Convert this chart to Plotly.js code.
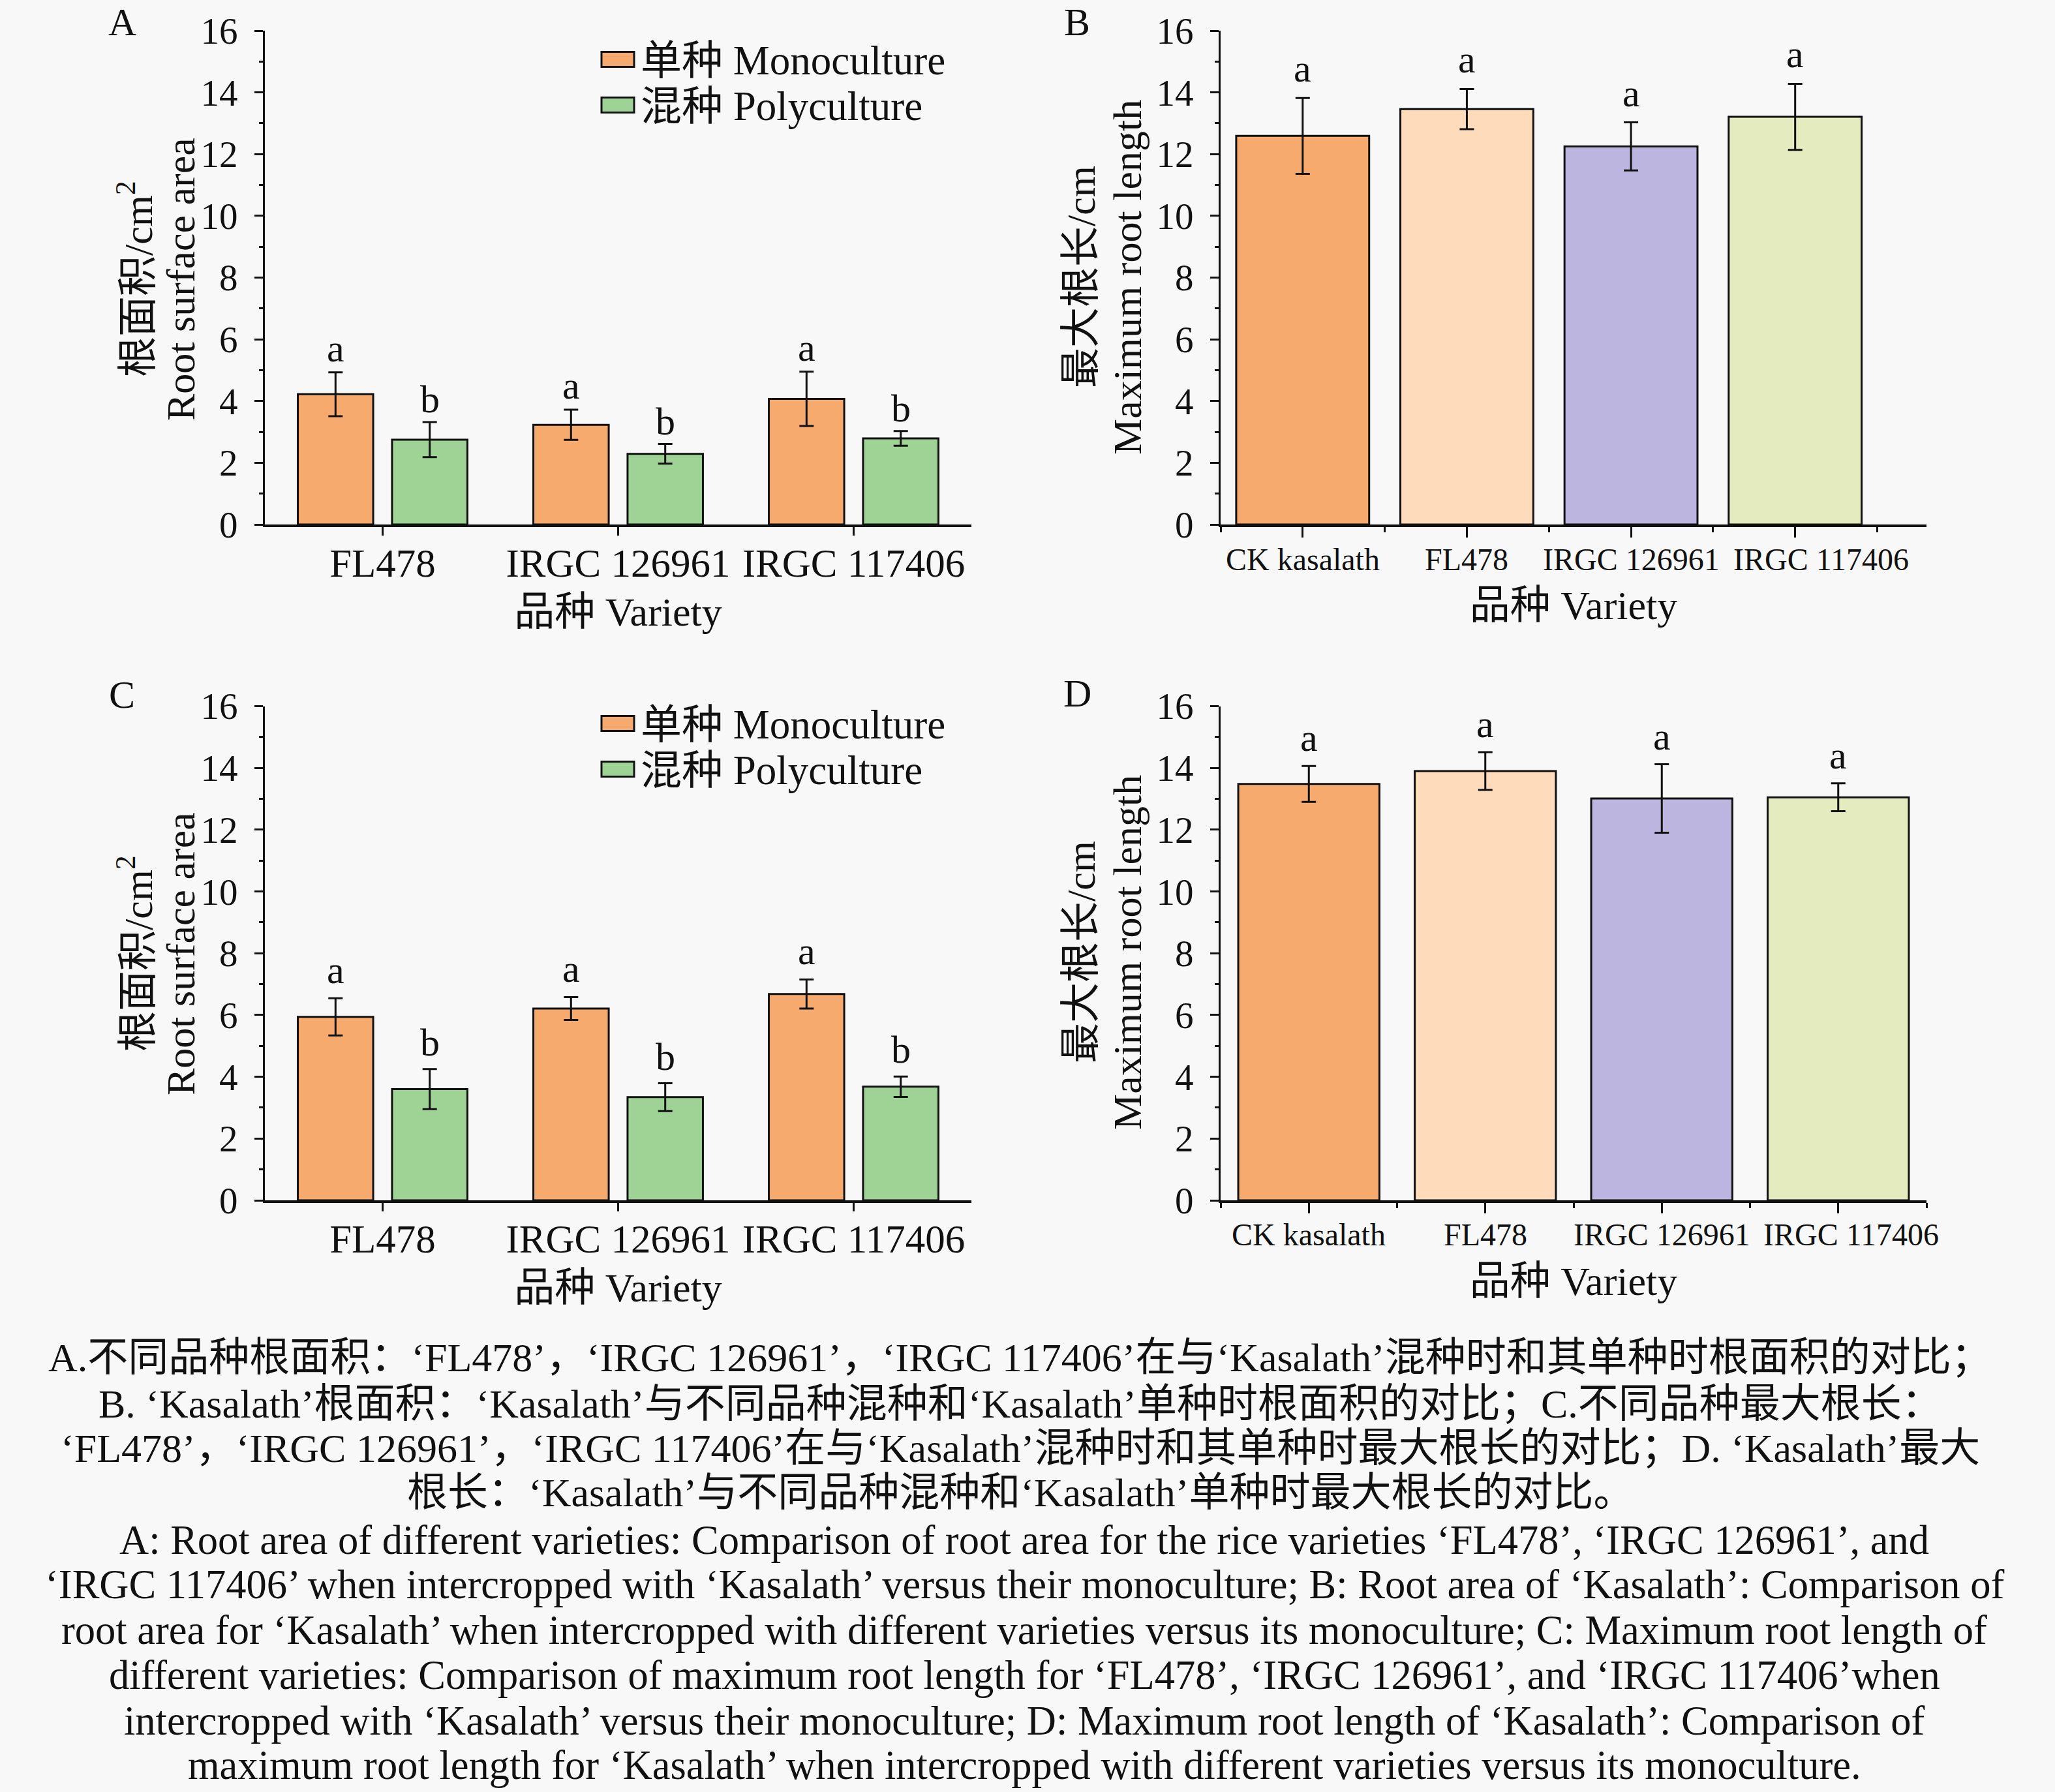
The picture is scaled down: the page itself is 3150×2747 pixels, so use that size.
<!DOCTYPE html>
<html>
<head>
<meta charset="utf-8">
<script src="https://cdn.plot.ly/plotly-3.0.1.min.js"></script>
<style>
  html, body { margin: 0; padding: 0; background: #f8f8f8; }
  #chart { width: 3150px; height: 2747px; }
</style>
</head>
<body>
<div id="chart"></div>
<script>
// ---------------- DATA ----------------
const varietyCats = ['FL478', 'IRGC 126961', 'IRGC 117406'];
const kasalathCats = ['CK kasalath', 'FL478', 'IRGC 126961', 'IRGC 117406'];

// Panel A: root surface area of different varieties (cm2)
const areaMono = [4.22, 3.23, 4.07];
const areaMonoErr = [0.71, 0.49, 0.88];
const areaPoly = [2.75, 2.29, 2.79];
const areaPolyErr = [0.57, 0.32, 0.24];
const areaMonoSig = ['a', 'a', 'a'];
const areaPolySig = ['b', 'b', 'b'];

// Panel B: Kasalath (max root length, cm)
const kasB = [12.59, 13.46, 12.25, 13.21];
const kasBErr = [1.23, 0.65, 0.78, 1.07];
const kasBSig = ['a', 'a', 'a', 'a'];

// Panel C: root surface area of different varieties (cm2)
const areaMonoC = [5.94, 6.21, 6.68];
const areaMonoCErr = [0.60, 0.37, 0.47];
const areaPolyC = [3.60, 3.34, 3.68];
const areaPolyCErr = [0.65, 0.45, 0.33];
const areaMonoCSig = ['a', 'a', 'a'];
const areaPolyCSig = ['b', 'b', 'b'];

// Panel D: Kasalath (max root length, cm)
const kasD = [13.48, 13.90, 13.01, 13.05];
const kasDErr = [0.58, 0.61, 1.11, 0.45];
const kasDSig = ['a', 'a', 'a', 'a'];

const yTickVals = [0, 2, 4, 6, 8, 10, 12, 14, 16];

const yTitleArea = ['根面积/cm<sup>2</sup>', 'Root surface area'];
const yTitleLen = ['最大根长/cm', 'Maximum root length'];
const xTitle = '品种 Variety';
const legendNames = ['单种 Monoculture', '混种 Polyculture'];

const captionZh = [
  'A.不同品种根面积：‘FL478’，‘IRGC 126961’，‘IRGC 117406’在与‘Kasalath’混种时和其单种时根面积的对比；',
  'B. ‘Kasalath’根面积：‘Kasalath’与不同品种混种和‘Kasalath’单种时根面积的对比；C.不同品种最大根长：',
  '‘FL478’，‘IRGC 126961’，‘IRGC 117406’在与‘Kasalath’混种时和其单种时最大根长的对比；D. ‘Kasalath’最大',
  '根长：‘Kasalath’与不同品种混种和‘Kasalath’单种时最大根长的对比。'
];
const captionEn = [
  'A: Root area of different varieties: Comparison of root area for the rice varieties ‘FL478’, ‘IRGC 126961’, and',
  '‘IRGC 117406’ when intercropped with ‘Kasalath’ versus their monoculture; B: Root area of ‘Kasalath’: Comparison of',
  'root area for ‘Kasalath’ when intercropped with different varieties versus its monoculture; C: Maximum root length of',
  'different varieties: Comparison of maximum root length for ‘FL478’, ‘IRGC 126961’, and ‘IRGC 117406’when',
  'intercropped with ‘Kasalath’ versus their monoculture; D: Maximum root length of ‘Kasalath’: Comparison of',
  'maximum root length for ‘Kasalath’ when intercropped with different varieties versus its monoculture.'
];

// ---------------- STYLE ----------------
const W = 3150, H = 2747;
const FONT = 'Liberation Serif, Noto Sans CJK SC, serif';
const INK = '#111111';
const cMono = '#f6aa6e';
const cPoly = '#9fd396';
const kasColors = ['#f6aa6e', '#fedcbb', '#bbb5e0', '#e4ebbf'];
const bg = '#f8f8f8';

const px2x = v => v / W;
const px2y = v => 1 - v / H;

const errStyle = arr => ({type: 'data', array: arr, visible: true, color: INK, thickness: 3, width: 11});
const barLine = {color: INK, width: 3};

const idxA = varietyCats.map((c, i) => i);
const idxB = kasalathCats.map((c, i) => i);

const traces = [
  {type: 'bar', name: legendNames[0], x: idxA, y: areaMono, error_y: errStyle(areaMonoErr),
   marker: {color: cMono, line: barLine}, xaxis: 'x', yaxis: 'y', offsetgroup: 'm'},
  {type: 'bar', name: legendNames[1], x: idxA, y: areaPoly, error_y: errStyle(areaPolyErr),
   marker: {color: cPoly, line: barLine}, xaxis: 'x', yaxis: 'y', offsetgroup: 'p'},
  {type: 'bar', name: 'Kasalath', x: idxB, y: kasB, error_y: errStyle(kasBErr),
   marker: {color: kasColors, line: barLine}, xaxis: 'x2', yaxis: 'y2', width: 0.81},
  {type: 'bar', name: legendNames[0], x: idxA, y: areaMonoC, error_y: errStyle(areaMonoCErr),
   marker: {color: cMono, line: barLine}, xaxis: 'x3', yaxis: 'y3', offsetgroup: 'm'},
  {type: 'bar', name: legendNames[1], x: idxA, y: areaPolyC, error_y: errStyle(areaPolyCErr),
   marker: {color: cPoly, line: barLine}, xaxis: 'x3', yaxis: 'y3', offsetgroup: 'p'},
  {type: 'bar', name: 'Kasalath', x: idxB, y: kasD, error_y: errStyle(kasDErr),
   marker: {color: kasColors, line: barLine}, xaxis: 'x4', yaxis: 'y4', width: 0.80}
];

const colA = [406, 1489], colB = [1871, 2953];
const rowTop = [47, 804], rowBot = [1082.5, 1840];

function yAxis(domPx, anchor) {
  return {
    domain: [px2y(domPx[1]), px2y(domPx[0])], anchor: anchor, range: [0, 16],
    tickmode: 'array', tickvals: yTickVals, ticks: 'outside', ticklen: 13, tickwidth: 3, tickcolor: INK,
    minor: {tickmode: 'array', tickvals: [1, 3, 5, 7, 9, 11, 13, 15], ticks: 'outside', ticklen: 6, tickwidth: 3, tickcolor: INK},
    showline: true, linewidth: 3, linecolor: INK, showgrid: false, zeroline: false,
    tickfont: {family: FONT, size: 57, color: INK}, ticklabelstandoff: 14,
    automargin: false, fixedrange: true
  };
}
function xAxisGrouped(domPx, anchor) {
  return {
    domain: [px2x(domPx[0]), px2x(domPx[1])], anchor: anchor, range: [-0.5, 2.5],
    tickmode: 'array', tickvals: idxA, ticktext: varietyCats, tickangle: 0,
    ticks: 'outside', ticklen: 13, tickwidth: 3, tickcolor: INK,
    showline: true, linewidth: 4, linecolor: INK, showgrid: false, zeroline: false,
    tickfont: {family: FONT, size: 61, color: INK}, ticklabelstandoff: -10,
    title: {text: xTitle, font: {family: FONT, size: 62, color: INK}, standoff: 20},
    automargin: false, fixedrange: true
  };
}
// Kasalath panels: category labels are drawn as annotations below (the reference crowds them
// and nudges the last one right), so the axis itself only carries ticks and the title.
function xAxisKas(domPx, anchor, rangeMax) {
  return {
    domain: [px2x(domPx[0]), px2x(domPx[1])], anchor: anchor, range: [-0.5, rangeMax],
    tickmode: 'array', tickvals: idxB, ticktext: kasalathCats, tickangle: 0, showticklabels: false,
    ticks: 'outside', ticklen: 16, tickwidth: 3, tickcolor: INK,
    minor: {tickmode: 'array', tickvals: [-0.5, 0.5, 1.5, 2.5, 3.5], ticks: 'outside', ticklen: 8, tickwidth: 3, tickcolor: INK},
    showline: true, linewidth: 4, linecolor: INK, showgrid: false, zeroline: false,
    title: {text: xTitle, font: {family: FONT, size: 62, color: INK}, standoff: 84},
    automargin: false, fixedrange: true
  };
}

const annotations = [];
function sigLabels(xref, yref, xs, vals, errs, labels, xoff, yshift) {
  xs.forEach((xv, i) => annotations.push({
    xref: xref, yref: yref, x: xv + xoff, y: vals[i] + errs[i], text: labels[i], showarrow: false,
    yanchor: 'bottom', yshift: yshift, font: {family: FONT, size: 60, color: INK}
  }));
}
sigLabels('x', 'y', idxA, areaMono, areaMonoErr, areaMonoSig, -0.2, 2);
sigLabels('x', 'y', idxA, areaPoly, areaPolyErr, areaPolySig, 0.2, 0);
sigLabels('x2', 'y2', idxB, kasB, kasBErr, kasBSig, 0, 10);
sigLabels('x3', 'y3', idxA, areaMonoC, areaMonoCErr, areaMonoCSig, -0.2, 8);
sigLabels('x3', 'y3', idxA, areaPolyC, areaPolyCErr, areaPolyCSig, 0.2, 6);
sigLabels('x4', 'y4', idxB, kasD, kasDErr, kasDSig, 0, 8);

function kasLabels(xref, yPx, lastShift) {
  idxB.forEach((xv, i) => annotations.push({
    xref: xref, yref: 'paper', x: xv, y: px2y(yPx), text: kasalathCats[i], showarrow: false,
    xanchor: 'center', yanchor: 'middle', xshift: i === idxB.length - 1 ? lastShift : 0,
    font: {family: FONT, size: 48, color: INK}
  }));
}
kasLabels('x2', 858, 40);
kasLabels('x4', 1892, 20);

// y-axis titles (two lines each, rotated)
function yTitle(lines, xs, yc) {
  lines.forEach((t, i) => annotations.push({
    xref: 'paper', yref: 'paper', x: px2x(xs[i]), y: px2y(yc), text: t, textangle: -90, showarrow: false,
    xanchor: 'center', yanchor: 'middle', font: {family: FONT, size: 62, color: INK}
  }));
}
yTitle(yTitleArea, [207, 277], 428);
yTitle(yTitleLen, [1657, 1728], 425);
yTitle(yTitleArea, [207, 277], 1462);
yTitle(yTitleLen, [1657, 1728], 1460);

// panel letters
[['A', 187, 34], ['B', 1651, 34], ['C', 187, 1065], ['D', 1651, 1063]].forEach(p => annotations.push({
  xref: 'paper', yref: 'paper', x: px2x(p[1]), y: px2y(p[2]), text: p[0], showarrow: false,
  xanchor: 'center', yanchor: 'middle', font: {family: FONT, size: 60, color: INK}
}));

// legends (panels A and C)
const shapes = [];
function legend(row1, row2) {
  [[row1, cMono, legendNames[0]], [row2, cPoly, legendNames[1]]].forEach(r => {
    shapes.push({type: 'rect', xref: 'paper', yref: 'paper',
      x0: px2x(922), x1: px2x(972), y0: px2y(r[0] + 11.5), y1: px2y(r[0] - 11.5),
      fillcolor: r[1], line: {color: INK, width: 3}});
    annotations.push({xref: 'paper', yref: 'paper', x: px2x(980), y: px2y(r[0] + 2), text: r[2],
      showarrow: false, xanchor: 'left', yanchor: 'middle', font: {family: FONT, size: 63, color: INK}});
  });
}
legend(91, 161);
legend(1109, 1179);

// caption
const zhY = [2081, 2152, 2220, 2288];
const enY = [2361, 2429, 2499, 2568, 2638, 2706];
captionZh.forEach((t, i) => annotations.push({xref: 'paper', yref: 'paper', x: 0.4965, y: px2y(zhY[i]), text: t,
  showarrow: false, xanchor: 'center', yanchor: 'middle', font: {family: FONT, size: 62, color: INK}}));
captionEn.forEach((t, i) => annotations.push({xref: 'paper', yref: 'paper', x: 0.4985, y: px2y(enY[i]), text: t,
  showarrow: false, xanchor: 'center', yanchor: 'middle', font: {family: FONT, size: 62.5, color: INK}}));

const layout = {
  width: W, height: H, margin: {l: 0, r: 0, t: 0, b: 0},
  paper_bgcolor: bg, plot_bgcolor: bg, showlegend: false,
  barmode: 'group', bargap: 0.2, bargroupgap: 0.2,
  font: {family: FONT, color: INK},
  xaxis: xAxisGrouped(colA, 'y'),
  yaxis: yAxis(rowTop, 'x'),
  xaxis2: xAxisKas(colB, 'y2', 3.8),
  yaxis2: yAxis(rowTop, 'x2'),
  xaxis3: xAxisGrouped(colA, 'y3'),
  yaxis3: yAxis(rowBot, 'x3'),
  xaxis4: xAxisKas(colB, 'y4', 3.5),
  yaxis4: yAxis(rowBot, 'x4'),
  annotations: annotations, shapes: shapes
};

Plotly.newPlot('chart', traces, layout, {displayModeBar: false, staticPlot: true});
</script>
</body>
</html>
